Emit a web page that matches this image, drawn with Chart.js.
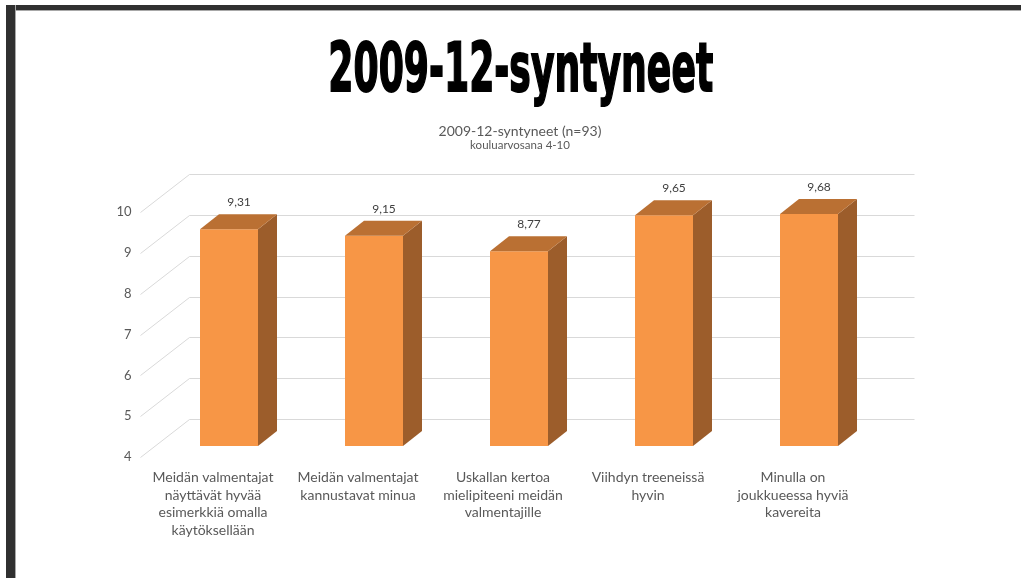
<!DOCTYPE html>
<html>
<head>
<meta charset="utf-8">
<script src="https://cdn.jsdelivr.net/npm/chart.js@4.4.0/dist/chart.umd.min.js"></script>
<style>
    html, body { margin: 0; padding: 0; background: #fff; }
    #page { position: relative; width: 1021px; height: 578px; overflow: hidden; background: #fff; }
    #chartBox { position: absolute; left: 0; top: 0; width: 1021px; height: 578px; }
    #topBar { position: absolute; left: 6px; top: 5px; width: 1015px; height: 5px; background: #303030; border-bottom: 1px solid #a8a8a8; }
    #leftBar { position: absolute; left: 6px; top: 5px; width: 9px; height: 573px; background: #303030; border-right: 1px solid #a8a8a8; }
    #bigTitle { position: absolute; left: 10px; top: 34px; width: 1021px; text-align: center; }
    #bigTitle span {
        display: inline-block;
        font-family: "DejaVu Sans", sans-serif;
        font-weight: bold;
        font-size: 68px;
        line-height: 68px;
        color: #000;
        -webkit-text-stroke: 2px #000;
        transform-origin: center;
    }
</style>
</head>
<body>
<div id="page">
    <div id="chartBox"><canvas id="sensorChart" width="1021" height="578"></canvas></div>
    <div id="topBar"></div>
    <div id="leftBar"></div>
    <div id="bigTitle"><span id="bigTitleText">2009-12-syntyneet</span></div>
</div>
<script>
// data
const categories = [
    ['Meidän valmentajat', 'näyttävät hyvää', 'esimerkkiä omalla', 'käytöksellään'],
    ['Meidän valmentajat', 'kannustavat minua'],
    ['Uskallan kertoa', 'mielipiteeni meidän', 'valmentajille'],
    ['Viihdyn treeneissä', 'hyvin'],
    ['Minulla on', 'joukkueessa hyviä', 'kavereita']
];
const values = [9.31, 9.15, 8.77, 9.65, 9.68];
const yTicks = [4, 5, 6, 7, 8, 9, 10];
const pageTitle = '2009-12-syntyneet';
const chartTitle = '2009-12-syntyneet (n=93)';
const chartSubtitle = 'kouluarvosana 4-10';

// 3D-tyylin siirrot
const DX = 49, DY = -38;     // takaseinä
const SX = 16, SY = -11;     // pylvään etupinta
const DDX = 19, DDY = -15;   // pylvään syvyys

let sensorChart;

const depthPlugin = {
    id: 'depth3d',
    beforeDatasetsDraw(chart) {
        const {ctx, chartArea, scales} = chart;
        ctx.save();
        ctx.strokeStyle = '#d9d9d9';
        ctx.lineWidth = 1;
        yTicks.forEach(v => {
            const y = Math.round(scales.y.getPixelForValue(v)) + 0.5;
            ctx.beginPath();
            ctx.moveTo(chartArea.left, y);
            ctx.lineTo(chartArea.left + DX, y + DY);
            ctx.lineTo(chartArea.right + DX, y + DY);
            ctx.stroke();
        });
        ctx.restore();
        ctx.save();
        ctx.translate(SX, SY);
    },
    afterDatasetsDraw(chart) {
        const {ctx} = chart;
        ctx.restore();
        const meta = chart.getDatasetMeta(0);
        meta.data.forEach((bar, i) => {
            const l = bar.x - bar.width / 2 + SX;
            const r = bar.x + bar.width / 2 + SX;
            const top = bar.y + SY;
            const base = bar.base + SY;

            ctx.fillStyle = '#9c5d2b';
            ctx.beginPath();
            ctx.moveTo(r, top);
            ctx.lineTo(r + DDX, top + DDY);
            ctx.lineTo(r + DDX, base + DDY);
            ctx.lineTo(r, base);
            ctx.closePath();
            ctx.fill();

            ctx.fillStyle = '#ba7033';
            ctx.beginPath();
            ctx.moveTo(l, top);
            ctx.lineTo(l + DDX, top + DDY);
            ctx.lineTo(r + DDX, top + DDY);
            ctx.lineTo(r, top);
            ctx.closePath();
            ctx.fill();

            ctx.fillStyle = '#404040';
            ctx.font = '12px Lato';
            ctx.textAlign = 'center';
            ctx.textBaseline = 'middle';
            ctx.fillText(values[i].toFixed(2).replace('.', ','), bar.x + SX + 10, top + DDY - 12);
        });
    }
};

document.addEventListener("DOMContentLoaded", () => {
    fitBigTitle();
    initializeChart();
});

function fitBigTitle() {
    const el = document.getElementById('bigTitleText');
    el.textContent = pageTitle;
    const w = el.offsetWidth;
    el.style.transform = 'scaleX(' + (385 / w).toFixed(3) + ')';
}

function initializeChart() {
    const ctx = document.getElementById('sensorChart').getContext('2d');
    sensorChart = new Chart(ctx, {
        type: 'bar',
        data: {
            labels: categories,
            datasets: [{
                data: values,
                base: yTicks[0],
                backgroundColor: '#f79646',
                borderWidth: 0,
                barPercentage: 0.4,
                categoryPercentage: 1.0,
                clip: false
            }]
        },
        plugins: [depthPlugin],
        options: {
            responsive: false,
            animation: false,
            layout: {padding: {left: 19, right: 0, top: 0, bottom: 0}},
            plugins: {
                legend: {display: false},
                tooltip: {enabled: false},
                title: {
                    display: true,
                    text: chartTitle,
                    color: '#595959',
                    font: {family: 'Lato', size: 14, weight: 'normal', lineHeight: 1},
                    padding: {top: 124.7, bottom: 0}
                },
                subtitle: {
                    display: true,
                    text: chartSubtitle,
                    color: '#595959',
                    font: {family: 'Lato', size: 11.5, lineHeight: 1},
                    padding: {top: 0.5, bottom: 61.3}
                }
            },
            scales: {
                x: {
                    grid: {display: false, drawTicks: false},
                    border: {display: false},
                    ticks: {
                        color: '#595959',
                        font: {family: 'Lato', size: 14, lineHeight: 1.25},
                        padding: 12,
                        maxRotation: 0,
                        autoSkip: false
                    },
                    afterFit(s) { s.height = 121; }
                },
                y: {
                    min: 4,
                    max: 10,
                    grid: {display: false, drawTicks: false},
                    border: {display: false},
                    afterBuildTicks(s) { s.ticks = yTicks.map(v => ({value: v})); },
                    ticks: {
                        color: '#595959',
                        font: {family: 'Lato', size: 13},
                        padding: 9
                    },
                    afterFit(s) { s.width = 121.5; }
                },
                y2: {
                    position: 'right',
                    grid: {display: false, drawTicks: false},
                    border: {display: false},
                    ticks: {display: false},
                    afterFit(s) { s.width = 155.5; }
                }
            }
        }
    });
}
</script>
</body>
</html>
